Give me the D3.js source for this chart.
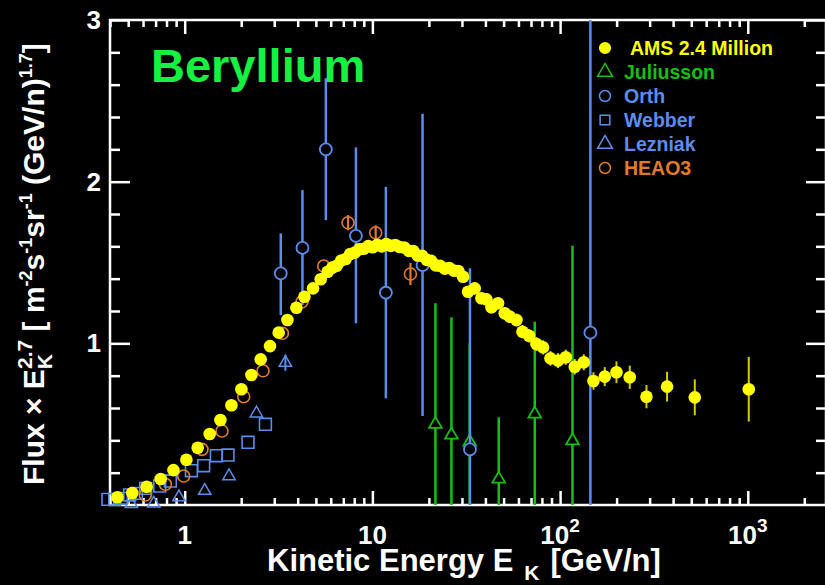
<!DOCTYPE html>
<html>
<head>
<meta charset="utf-8">
<script src="https://cdnjs.cloudflare.com/ajax/libs/d3/7.8.5/d3.min.js"></script>
<style>
  body { margin: 0; background: #000; }
  svg { display: block; font-family: "Liberation Sans", Arial, Helvetica, sans-serif; font-weight: bold; }
</style>
</head>
<body>
<div id="chart"></div>
<script>
var chart_width  = 825;
var chart_height = 585;

// ---- data ----
var ams_energy = [0.438, 0.526, 0.627, 0.745, 0.871, 1.021, 1.173, 1.359, 1.550, 1.774,
  2.005, 2.267, 2.541, 2.848, 3.168, 3.526, 3.937, 4.344, 4.827, 5.304,
  5.781, 6.109, 6.456, 6.823, 7.210, 7.619, 8.052, 8.509, 8.992, 9.502,
  10.04, 10.61, 11.21, 11.85, 12.52, 13.23, 13.98, 14.78, 15.62, 16.50,
  17.44, 18.43, 19.48, 20.58, 21.75, 22.99, 24.29, 25.67, 27.13, 28.67,
  30.41, 32.33, 35.10, 38.11, 40.52, 43.09, 46.71, 50.71, 53.92, 58.55,
  63.03, 68.33, 74.82, 81.16, 88.85, 97.52, 107.2, 119.7, 133.7,
  150.6, 173.0, 199.7, 235.0, 288.5, 371.5, 521.9, 1012];
var ams_flux = [0.048, 0.074, 0.113, 0.161, 0.216, 0.280, 0.354, 0.439, 0.526, 0.617,
  0.716, 0.804, 0.901, 0.983, 1.066, 1.144, 1.220, 1.288, 1.340, 1.396,
  1.443, 1.468, 1.480, 1.512, 1.522, 1.553, 1.561, 1.582, 1.585, 1.601,
  1.594, 1.609, 1.600, 1.614, 1.603, 1.608, 1.596, 1.593, 1.572, 1.571,
  1.543, 1.541, 1.516, 1.510, 1.482, 1.479, 1.462, 1.466, 1.450, 1.447,
  1.412, 1.319, 1.340, 1.279, 1.272, 1.223, 1.248, 1.186, 1.165, 1.144,
  1.072, 1.047, 0.996, 0.975, 0.907, 0.893, 0.914, 0.855, 0.883,
  0.767, 0.794, 0.821, 0.790, 0.670, 0.732, 0.666, 0.716];
var ams_error = [0.005, 0.005, 0.006, 0.006, 0.007, 0.007, 0.008, 0.008, 0.009, 0.009,
  0.010, 0.010, 0.011, 0.011, 0.012, 0.012, 0.013, 0.013, 0.014, 0.014,
  0.018, 0.020, 0.020, 0.020, 0.021, 0.022, 0.022, 0.023, 0.023, 0.024,
  0.024, 0.025, 0.025, 0.026, 0.026, 0.027, 0.027, 0.028, 0.028, 0.029,
  0.029, 0.030, 0.030, 0.031, 0.031, 0.032, 0.032, 0.033, 0.033, 0.034,
  0.035, 0.036, 0.036, 0.037, 0.037, 0.038, 0.038, 0.039, 0.040, 0.040,
  0.041, 0.042, 0.043, 0.044, 0.045, 0.046, 0.047, 0.048, 0.050,
  0.054, 0.059, 0.067, 0.072, 0.072, 0.092, 0.111, 0.200];

var juliusson_energy = [21.67, 26.37, 33.01, 47.11, 73.28, 116.4];
var juliusson_flux   = [0.500, 0.433, 0.390, 0.161, 0.563, 0.398];
var juliusson_low    = [0, 0, 0, 0, 0, 0];
var juliusson_high   = [1.248, 1.161, 1.000, 0.542, 1.134, 1.604];

var orth_energy = [3.25, 4.24, 5.65, 8.17, 11.8, 18.5, 33.1, 145];
var orth_flux   = [1.433, 1.590, 2.200, 1.665, 1.313, 1.484, 0.344, 1.066];
var orth_low    = [1.175, 1.237, 1.762, 1.124, 0.660, 0.550, 0, 0];
var orth_high   = [1.680, 1.948, 2.640, 2.212, 1.968, 2.420, 1.464, 3.2];

var webber_energy = [0.390, 0.424, 0.460, 0.509, 0.553, 0.620, 0.736, 0.839, 1.086, 1.262, 1.475, 1.701, 2.175, 2.692];
var webber_flux   = [0.035, 0.035, 0.041, 0.062, 0.072, 0.103, 0.117, 0.148, 0.212, 0.243, 0.305, 0.309, 0.388, 0.499];

var lezniak_energy = [0.520, 0.684, 0.932, 1.278, 1.722, 2.411, 3.44];
var lezniak_flux   = [0.006, 0.010, 0.048, 0.088, 0.179, 0.567, 0.880];
var lezniak_error  = [0, 0, 0, 0, 0, 0, 0.05];

var heao_energy = [0.617, 0.789, 0.988, 1.236, 1.580, 2.063, 2.614, 3.316, 4.218, 5.504, 7.417, 10.41, 15.95];
var heao_flux   = [0.062, 0.128, 0.179, 0.344, 0.458, 0.670, 0.830, 1.062, 1.257, 1.478, 1.746, 1.684, 1.429];
var heao_error  = [0, 0, 0, 0, 0, 0, 0, 0, 0, 0, 0.047, 0.046, 0.068];

var x_tick_values = [1, 10, 100, 1000];
var x_tick_base   = ["1", "10", "10", "10"];
var x_tick_exp    = ["", "", "2", "3"];
var y_tick_values = [1, 2, 3];
var y_minor_ticks = [0.2, 0.4, 0.6, 0.8, 1.2, 1.4, 1.6, 1.8, 2.2, 2.4, 2.6, 2.8];

var legend_labels = ["AMS 2.4 Million", "Juliusson", "Orth", "Webber", "Lezniak", "HEAO3"];

// colours
var c_yellow = "#ffff00", c_amsbar = "#d6cc00", c_green = "#14c014",
    c_blue = "#5b8def", c_orange = "#e07b2c", c_title = "#16f040";

// ---- scales ----
var x = d3.scaleLog().domain([0.4, 2610]).range([110, 826]);
var y = d3.scaleLinear().domain([0, 3]).range([505, 20]);
var yc = y.copy().clamp(true);

var svg = d3.select("#chart")
  .append("svg")
  .attr("width", chart_width)
  .attr("height", chart_height);

svg.append("rect")
  .attr("width", chart_width)
  .attr("height", chart_height)
  .style("fill", "#000");

// ---- axes / ticks ----
var x_minor = x.ticks().filter(function(d){ return x_tick_values.indexOf(d) < 0; });

function styleAxis(g){
  g.select(".domain").remove();
  g.selectAll("line").attr("stroke", "#fff").attr("stroke-width", 2.5);
}

svg.append("g").attr("transform", "translate(0,505)")
  .call(d3.axisBottom(x).tickValues(x_minor).tickSize(-7).tickFormat("")).call(styleAxis);
svg.append("g").attr("transform", "translate(0,505)")
  .call(d3.axisBottom(x).tickValues(x_tick_values).tickSize(-14).tickFormat("")).call(styleAxis);
svg.append("g").attr("transform", "translate(0,20)")
  .call(d3.axisTop(x).tickValues(x_minor).tickSize(-7).tickFormat("")).call(styleAxis);
svg.append("g").attr("transform", "translate(0,20)")
  .call(d3.axisTop(x).tickValues(x_tick_values).tickSize(-14).tickFormat("")).call(styleAxis);

svg.append("g").attr("transform", "translate(110,0)")
  .call(d3.axisLeft(y).tickValues(y_minor_ticks).tickSize(-10).tickFormat("")).call(styleAxis);
svg.append("g").attr("transform", "translate(110,0)")
  .call(d3.axisLeft(y).tickValues(y_tick_values).tickSize(-20).tickFormat("")).call(styleAxis);
svg.append("g").attr("transform", "translate(826,0)")
  .call(d3.axisRight(y).tickValues(y_minor_ticks).tickSize(-10).tickFormat("")).call(styleAxis);
svg.append("g").attr("transform", "translate(826,0)")
  .call(d3.axisRight(y).tickValues(y_tick_values).tickSize(-20).tickFormat("")).call(styleAxis);

// frame
svg.append("rect")
  .attr("x", x.range()[0]).attr("y", y.range()[1])
  .attr("width", x.range()[1] - x.range()[0])
  .attr("height", y.range()[0] - y.range()[1])
  .style("fill", "none").style("stroke", "#fff").style("stroke-width", 2.5);

// tick labels
var xl = svg.append("g").selectAll("text")
  .data(x_tick_values)
  .enter().append("text")
  .attr("x", function(d){ return x(d); })
  .attr("y", 544)
  .attr("text-anchor", "middle")
  .style("fill", "#fff").style("font-size", "26px");
xl.append("tspan").text(function(d, i){ return x_tick_base[i]; });
xl.append("tspan").attr("dy", -12).style("font-size", "19px")
  .text(function(d, i){ return x_tick_exp[i]; });

svg.append("g").selectAll("text")
  .data(y_tick_values)
  .enter().append("text")
  .attr("x", 101)
  .attr("y", function(d){ return y(d) + 9; })
  .attr("text-anchor", "end")
  .style("fill", "#fff").style("font-size", "26px")
  .text(function(d){ return d; });

// axis titles
var xt = svg.append("text")
  .attr("x", 267).attr("y", 571)
  .style("fill", "#fff").style("font-size", "31px");
xt.append("tspan").text("Kinetic Energy E");
xt.append("tspan").attr("dx", 11).attr("dy", 9).style("font-size", "21px").text("K");
xt.append("tspan").attr("dx", 11).attr("dy", -9).text("[GeV/n]");

var yt = svg.append("text")
  .attr("transform", "translate(44,485) rotate(-90)")
  .style("fill", "#fff").style("font-size", "30px");
yt.append("tspan").text("Flux \u00d7 E");
yt.append("tspan").attr("dy", 8).style("font-size", "21px").text("K");
yt.append("tspan").attr("dx", -15).attr("dy", -20).style("font-size", "21px").text("2.7");
yt.append("tspan").attr("dy", 12).text(" [ m");
yt.append("tspan").attr("dy", -12).style("font-size", "18px").text("-2");
yt.append("tspan").attr("dy", 12).text("s");
yt.append("tspan").attr("dy", -12).style("font-size", "18px").text("-1");
yt.append("tspan").attr("dy", 12).text("sr");
yt.append("tspan").attr("dy", -12).style("font-size", "18px").text("-1");
yt.append("tspan").attr("dy", 12).text(" (GeV/n)");
yt.append("tspan").attr("dy", -12).style("font-size", "18px").text("1.7");
yt.append("tspan").attr("dy", 12).text("]");

svg.append("text")
  .attr("x", 151).attr("y", 82)
  .style("fill", c_title).style("font-size", "47px")
  .text("Beryllium");

// ---- data layers ----
var g = svg.append("g");

function errorBars(energy, lo, hi, color, width){
  g.append("g").selectAll("line")
    .data(energy)
    .enter().append("line")
    .attr("x1", function(d){ return x(d); })
    .attr("x2", function(d){ return x(d); })
    .attr("y1", function(d, i){ return yc(lo[i]); })
    .attr("y2", function(d, i){ return yc(hi[i]); })
    .style("stroke", color).style("stroke-width", width);
}

function markers(energy, flux, type, size, fill, color, sw){
  g.append("g").selectAll("path")
    .data(energy)
    .enter().append("path")
    .attr("transform", function(d, i){ return "translate(" + x(d) + "," + y(flux[i]) + ")"; })
    .attr("d", d3.symbol().type(type).size(size))
    .style("fill", fill).style("stroke", color).style("stroke-width", sw);
}

function plusMinus(flux, err, sign){
  return flux.map(function(f, i){ return f + sign * err[i]; });
}

// Juliusson
errorBars(juliusson_energy, juliusson_low, juliusson_high, c_green, 2.5);
markers(juliusson_energy, juliusson_flux, d3.symbolTriangle, 70, "#000", c_green, 1.8);

// Orth
errorBars(orth_energy, orth_low, orth_high, c_blue, 2.5);
markers(orth_energy, orth_flux, d3.symbolCircle, 113, "#000", c_blue, 1.8);

// Webber
markers(webber_energy, webber_flux, d3.symbolSquare, 140, "none", c_blue, 1.6);

// Lezniak
errorBars(lezniak_energy, plusMinus(lezniak_flux, lezniak_error, -1), plusMinus(lezniak_flux, lezniak_error, 1), c_blue, 2);
markers(lezniak_energy, lezniak_flux, d3.symbolTriangle, 66, "none", c_blue, 1.5);

// HEAO3
errorBars(heao_energy, plusMinus(heao_flux, heao_error, -1), plusMinus(heao_flux, heao_error, 1), c_orange, 2.2);
markers(heao_energy, heao_flux, d3.symbolCircle, 113, "none", c_orange, 1.6);

// AMS on top
errorBars(ams_energy, plusMinus(ams_flux, ams_error, -1), plusMinus(ams_flux, ams_error, 1), c_amsbar, 2);
g.append("g").selectAll("circle")
  .data(ams_energy)
  .enter().append("circle")
  .attr("cx", function(d){ return x(d); })
  .attr("cy", function(d, i){ return y(ams_flux[i]); })
  .attr("r", 6.3)
  .style("fill", c_yellow);

// ---- legend ----
var legend_colors = [c_yellow, c_green, c_blue, c_blue, c_blue, c_orange];
var legend_symbols = [d3.symbolCircle, d3.symbolTriangle, d3.symbolCircle, d3.symbolSquare, d3.symbolTriangle, d3.symbolCircle];
var legend_fill = [c_yellow, "none", "none", "none", "none", "none"];

var lg = svg.append("g").selectAll("g")
  .data(legend_labels)
  .enter().append("g")
  .attr("transform", function(d, i){ return "translate(605," + (48 + i * 24) + ")"; });

lg.append("path")
  .attr("d", function(d, i){ return d3.symbol().type(legend_symbols[i]).size(i == 0 ? 90 : 95)(); })
  .style("fill", function(d, i){ return legend_fill[i]; })
  .style("stroke", function(d, i){ return legend_colors[i]; })
  .style("stroke-width", 1.5);

lg.append("text")
  .attr("x", function(d, i){ return i == 0 ? 25 : 19; })
  .attr("y", 7)
  .style("fill", function(d, i){ return legend_colors[i]; })
  .style("font-size", "19.5px")
  .text(function(d){ return d; });
</script>
</body>
</html>
